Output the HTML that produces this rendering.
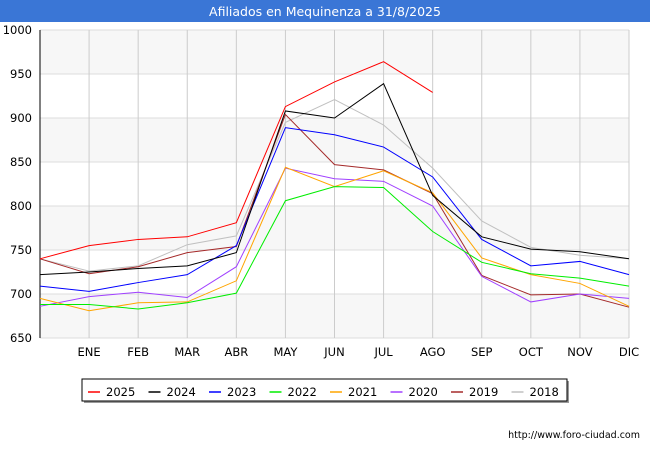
<!DOCTYPE html>
<html><head><meta charset="utf-8"><style>
body{margin:0;width:650px;height:450px;background:#fff;font-family:"DejaVu Sans","Liberation Sans",sans-serif;overflow:hidden}
</style></head><body>
<svg width="650" height="450" xmlns="http://www.w3.org/2000/svg" font-family="DejaVu Sans, Liberation Sans, sans-serif">
<rect x="0" y="0" width="650" height="22" fill="#3a76d6"/>
<text x="325" y="16" text-anchor="middle" font-size="12.5" fill="#fff">Afiliados en Mequinenza a 31/8/2025</text>
<g id="plot"></g>
<text x="640" y="438" text-anchor="end" font-size="9.5" fill="#000">http://www.foro-ciudad.com</text>
</svg>
<script>
const months=["","ENE","FEB","MAR","ABR","MAY","JUN","JUL","AGO","SEP","OCT","NOV","DIC"];
const yTicks=[650,700,750,800,850,900,950,1000];
const seriesNames=["2025","2024","2023","2022","2021","2020","2019","2018"];
const seriesColors=["#ff0000","#000000","#0000ff","#00ee00","#ffa500","#a040ff","#a52a2a","#c0c0c0"];
const s2025=[740,755,762,765,781,913,941,964,929];
const s2024=[722,725,729,732,747,908,900,939,812,765,751,748,740];
const s2023=[709,703,713,722,755,889,881,867,833,762,732,737,722];
const s2022=[688,688,683,690,701,806,822,821,771,736,723,718,709];
const s2021=[695,681,690,691,715,844,822,840,815,741,722,712,686];
const s2020=[686,697,702,696,731,843,831,828,800,720,691,700,695];
const s2019=[740,723,731,747,754,904,847,841,814,721,699,700,685];
const s2018=[740,726,732,756,766,895,921,892,843,783,753,744,740];
const allSeries=[s2025,s2024,s2023,s2022,s2021,s2020,s2019,s2018];
const NS="http://www.w3.org/2000/svg";
const X0=40,X1=629,Y0=338,Y1=30;
const xs=i=>X0+i*(X1-X0)/12;
const ys=v=>Y0-(v-650)*(Y0-Y1)/350;
const g=document.getElementById('plot');
function mk(t,a){const e=document.createElementNS(NS,t);for(const k in a)e.setAttribute(k,a[k]);g.appendChild(e);return e;}
for(let i=0;i<yTicks.length-1;i++){
  if(i%2===0){const r=mk('rect',{x:X0,y:ys(yTicks[i+1]),width:X1-X0,height:ys(yTicks[i])-ys(yTicks[i+1]),fill:'#f7f7f7'});
  
  }
}
yTicks.forEach(v=>{
  const l=mk('line',{x1:X0,x2:X1,y1:ys(v),y2:ys(v),stroke:'#dddddd'});
  
  
  const t=mk('text',{x:X0-8,y:ys(v)+4,'text-anchor':'end','font-size':'11.5',fill:'#000'});t.textContent=v;
  
  
});
months.forEach((m,i)=>{
  if(i>0){const l=mk('line',{x1:xs(i),x2:xs(i),y1:Y1,y2:Y0,stroke:'#cccccc'});
  
  
  const t=mk('text',{x:xs(i),y:356,'text-anchor':'middle','font-size':'11.5',fill:'#000'});t.textContent=m;
  
  }
});
const ax=mk('line',{x1:X0,x2:X0,y1:Y1,y2:Y0,stroke:'#000'});


for(let k=allSeries.length-1;k>=0;k--){
  const p=mk('polyline',{points:allSeries[k].map((v,i)=>xs(i)+','+ys(v)).join(' '),fill:'none',stroke:seriesColors[k],'stroke-width':'1'});
  
  
}
const sh=mk('rect',{x:84,y:381,width:485,height:22,fill:'#999'});


const lb=mk('rect',{x:82,y:379,width:485,height:22,fill:'#fff',stroke:'#000'});


seriesNames.forEach((n,k)=>{
  const x=88+k*60.5;
  const l=mk('line',{x1:x,x2:x+12,y1:392,y2:392,stroke:seriesColors[k],'stroke-width':'1.5'});
  
  
  const t=mk('text',{x:x+18,y:396,'font-size':'11.5',fill:'#000'});t.textContent=n;
  
  
});
</script>
</body></html>
